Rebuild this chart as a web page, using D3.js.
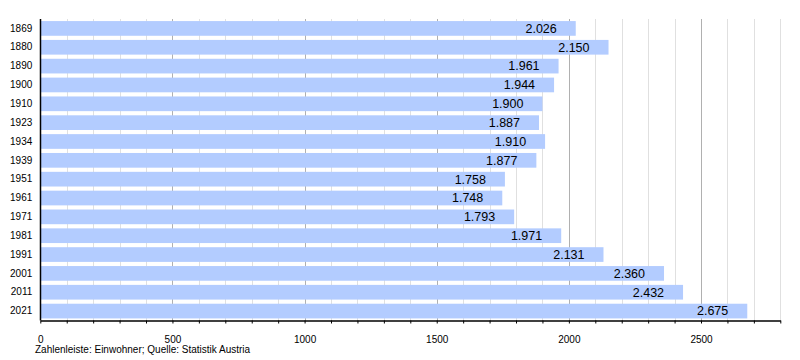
<!DOCTYPE html>
<html><head><meta charset="utf-8">
<script src="https://cdn.jsdelivr.net/npm/d3@7"></script>
<style>
body{margin:0;background:#fff;}
text{font-family:"Liberation Sans",Arial,Helvetica,sans-serif;fill:#000;}
</style></head>
<body><svg id="c" width="800" height="360"></svg>
<script>
const years = ["1869","1880","1890","1900","1910","1923","1934","1939","1951","1961","1971","1981","1991","2001","2011","2021"];
const population = [2026,2150,1961,1944,1900,1887,1910,1877,1758,1748,1793,1971,2131,2360,2432,2675];
const valueLabels = ["2.026","2.150","1.961","1.944","1.900","1.887","1.910","1.877","1.758","1.748","1.793","1.971","2.131","2.360","2.432","2.675"];
const majorTicks = [0,500,1000,1500,2000,2500];
const caption = "Zahlenleiste: Einwohner; Quelle: Statistik Austria";

(function(){
const svg = d3.select("#c");
const mL = 40.3, mR = 780.3, mT = 19, mB = 320.5;
const x = d3.scaleLinear().domain([0,2800]).range([mL,mR]);
const y = d3.scaleBand().domain(years).range([mT,mB]).paddingInner(0.22).paddingOuter(0.11);

const minor = d3.range(100,2801,100).filter(v=>v%500!==0);
svg.append("g").selectAll("line").data(minor).join("line")
  .attr("x1",d=>Math.round(x(d))+0.5).attr("x2",d=>Math.round(x(d))+0.5)
  .attr("y1",mT).attr("y2",mB).attr("stroke","#e0e0e0").attr("stroke-width",1);
svg.append("g").selectAll("line").data(majorTicks.filter(v=>v>0)).join("line")
  .attr("x1",d=>Math.round(x(d))+0.5).attr("x2",d=>Math.round(x(d))+0.5)
  .attr("y1",mT).attr("y2",mB).attr("stroke","#b0b0b0").attr("stroke-width",1);

svg.append("g").selectAll("rect").data(population).join("rect")
  .attr("x",x(0)).attr("y",(d,i)=>y(years[i]))
  .attr("width",d=>x(d)-x(0)).attr("height",y.bandwidth())
  .attr("fill","#b3ccff");

svg.append("g").selectAll("text").data(population).join("text")
  .attr("x",d=>x(d)-19).attr("y",(d,i)=>y(years[i])+y.bandwidth()/2)
  .attr("dy","0.35em").attr("text-anchor","end").attr("font-size","12.5px")
  .text((d,i)=>valueLabels[i]);

const yAxis = d3.axisLeft(y).tickSize(0).tickPadding(8);
const gy = svg.append("g").attr("transform",`translate(${mL},0)`).call(yAxis);
gy.select(".domain").remove();
gy.selectAll("text").attr("font-size","10px").attr("font-family",null);
svg.append("line").attr("x1",Math.round(mL)+0.5).attr("x2",Math.round(mL)+0.5)
  .attr("y1",mT).attr("y2",mB).attr("stroke","#000").attr("stroke-width",1.5);

const gx = svg.append("g").attr("transform",`translate(0,${mB})`)
  .call(d3.axisBottom(x).tickValues(d3.range(0,2801,100)).tickSize(3).tickSizeOuter(0)
    .tickFormat(d=>majorTicks.includes(d)?String(d):""));
gx.select(".domain").attr("stroke","#000").attr("stroke-width",1.5);
gx.selectAll(".tick line").attr("stroke","#000");
gx.selectAll("text").attr("font-size","10px").attr("font-family",null).attr("dy","1.6em");

svg.append("text").attr("x",35).attr("y",353).attr("font-size","10px").text(caption);
})();
</script></body></html>
